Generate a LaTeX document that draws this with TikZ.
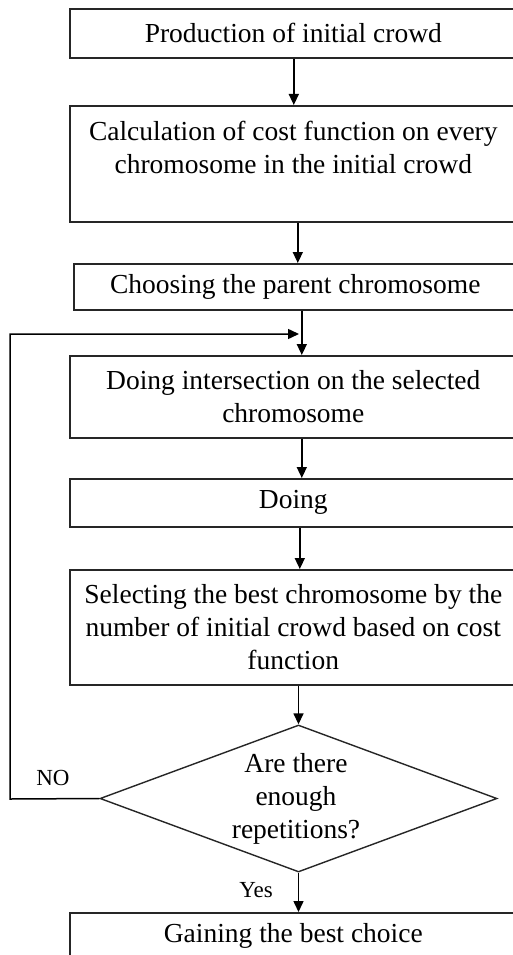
\documentclass[tikz,border=0pt]{standalone}
\usepackage{fontspec}
\setmainfont{Liberation Serif}
\usetikzlibrary{arrows.meta,shapes.geometric}
\begin{document}
\begin{tikzpicture}[x=1pt,y=-1pt,
  boxnode/.style={draw=black!85,line width=1.6pt,rectangle,anchor=north west,minimum width=447pt,inner sep=0pt,align=center,font=\fontsize{27.5}{33}\selectfont},
  decnode/.style={draw=black!85,line width=1.4pt,diamond,aspect=2.7,minimum width=397pt,minimum height=147pt,inner sep=0pt},
  dectext/.style={inner sep=0pt,align=center,font=\fontsize{27.5}{33}\selectfont},
  lbl/.style={inner sep=0pt,font=\fontsize{23}{26}\selectfont},
  arr/.style={draw=black,line width=1.5pt,-{Triangle[length=11pt,width=10pt]}}]
\useasboundingbox (0,0) rectangle (513,955);
\clip (0,0) rectangle (513,955);
\fill[white] (0,0) rectangle (513,955);
\node[boxnode,minimum height=49pt] (b1) at (69,8) {Production of initial crowd};
\node[boxnode,minimum height=116pt] (b2) at (69,105) {Calculation of cost function on every\\chromosome in the initial crowd\\ };
\node[boxnode,minimum height=46pt,minimum width=443pt] (b3) at (73,263) {Choosing the parent chromosome};
\node[boxnode,minimum height=82pt] (b4) at (69,355) {Doing intersection on the selected\\chromosome};
\node[boxnode,minimum height=48pt] (b5) at (69,478) {Doing};
\node[boxnode,minimum height=115pt] (b6) at (69,569) {Selecting the best chromosome by the\\number of initial crowd based on cost\\function};
\node[decnode] (d) at (298.5,798.5) {};
\node[dectext] (dt) at (296,799) {Are there\\enough\\repetitions?};
\node[boxnode,minimum height=46pt] (b7) at (69,912) {Gaining the best choice};
\node[lbl] (no) at (53,778) {NO};
\node[lbl] (yes) at (256,890) {Yes};
\coordinate (c1) at (10,799);
\coordinate (c2) at (10,334);
\coordinate (c3) at (299,334);
\draw[arr] ([xshift=0.5pt]b1.south) -- ([xshift=0.5pt]b1.south |- b2.north);
\draw[arr] ([xshift=4.5pt]b2.south) -- ([xshift=4.5pt]b2.south |- b3.north);
\draw[arr] ([xshift=6.5pt]b3.south) -- ([xshift=6.5pt]b3.south |- b4.north);
\draw[arr] ([xshift=8.5pt]b4.south) -- ([xshift=8.5pt]b4.south |- b5.north);
\draw[arr] ([xshift=6.5pt]b5.south) -- ([xshift=6.5pt]b5.south |- b6.north);
\draw[arr] (d.north |- b6.south) -- (d.north);
\draw[arr] (d.south) -- (d.south |- b7.north);
\draw[arr] (d.west) -- (c1) -- (c2) -- (c3);
\end{tikzpicture}
\end{document}
